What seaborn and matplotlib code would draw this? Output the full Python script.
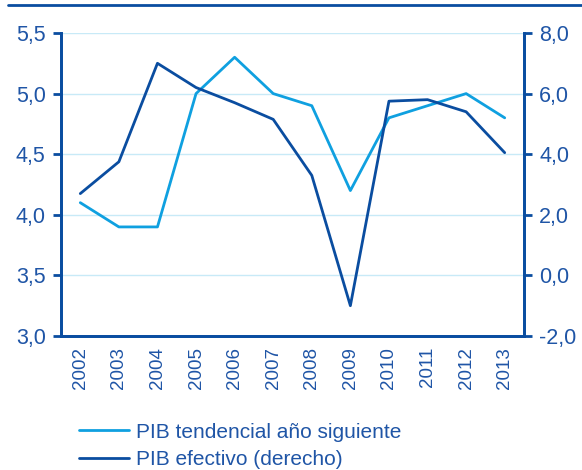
import matplotlib
matplotlib.use("Agg")
import matplotlib.pyplot as plt
import matplotlib.lines as mlines
import seaborn as sns
import pandas as pd

years = ['2002', '2003', '2004', '2005', '2006', '2007', '2008', '2009', '2010', '2011', '2012', '2013']
pib_tendencial = [4.1, 3.9, 3.9, 5.0, 5.3, 5.0, 4.9, 4.2, 4.8, 4.9, 5.0, 4.8]
pib_efectivo = [2.7, 3.75, 7.0, 6.2, 5.7, 5.15, 3.3, -1.0, 5.75, 5.8, 5.4, 4.05]

label_tend = 'PIB tendencial año siguiente'
label_efec = 'PIB efectivo (derecho)'

light = '#0fa0e0'
dark = '#0a4da0'
txt = '#1f55a6'
grid = '#c8eaf7'

sns.set_style('white')
plt.rcParams['font.family'] = ['Liberation Sans', 'DejaVu Sans']

df = pd.DataFrame({'year': years, 'tend': pib_tendencial, 'efec': pib_efectivo})

fig = plt.figure(figsize=(5.82, 4.70), dpi=100)
ax = fig.add_axes([61 / 582, 1 - 336 / 470, 463 / 582, 303 / 470])
ax2 = ax.twinx()

sns.lineplot(data=df, x='year', y='tend', ax=ax, color=light, linewidth=2, sort=False)
sns.lineplot(data=df, x='year', y='efec', ax=ax2, color=dark, linewidth=2, sort=False)

ax.set_xlim(-0.5, len(years) - 0.5)
ax.set_ylim(3.0, 5.5)
ax.set_yticks([3.0, 3.5, 4.0, 4.5, 5.0, 5.5])
ax.set_yticklabels(['3,0', '3,5', '4,0', '4,5', '5,0', '5,5'])
ax2.set_ylim(-2.0, 8.0)
ax2.set_yticks([-2, 0, 2, 4, 6, 8])
ax2.set_yticklabels(['-2,0', '0,0', '2,0', '4,0', '6,0', '8,0'])

ax.set_xticks(range(len(years)))
ax.set_xticklabels(years, rotation=90)
ax.set_xticks([i - 0.5 for i in range(len(years) + 1)], minor=True)
ax.tick_params(axis='x', which='major', length=0, pad=8, labelsize=13.5, labelcolor=txt)
ax.tick_params(axis='x', which='minor', length=6, width=2, color=dark, direction='out')
ax.tick_params(axis='y', length=6, width=2, color=dark, direction='out', labelsize=15.5, labelcolor=txt, pad=5)
ax2.tick_params(axis='y', length=6, width=2, color=dark, direction='out', labelsize=15.5, labelcolor=txt, pad=5)

ax.yaxis.grid(True, color=grid, linewidth=1)
ax.set_axisbelow(True)
ax.set_xlabel('')
ax.set_ylabel('')
ax2.set_ylabel('')

for a in (ax, ax2):
    a.spines['top'].set_visible(False)
    for s in ('left', 'right', 'bottom'):
        a.spines[s].set_color(dark)
        a.spines[s].set_linewidth(2)

# decorative rule at the top
fig.add_artist(mlines.Line2D([8 / 582, 1.0], [1 - 5 / 470, 1 - 5 / 470], color=dark, linewidth=2))

handles = [mlines.Line2D([], [], color=light, linewidth=2),
           mlines.Line2D([], [], color=dark, linewidth=2)]
leg = fig.legend(handles, [label_tend, label_efec], loc='lower left',
                 bbox_to_anchor=(60 / 582, -0.038), frameon=False, fontsize=15,
                 handlelength=2.4, handletextpad=0.35, labelspacing=0.4, labelcolor=txt)

fig.savefig('out.png', dpi=100)
